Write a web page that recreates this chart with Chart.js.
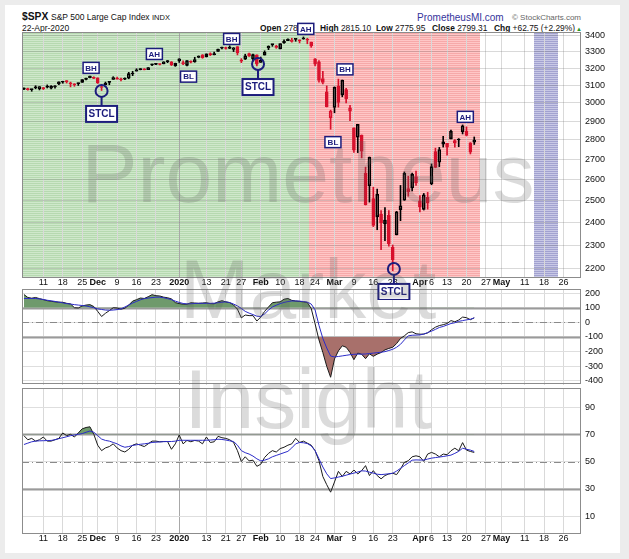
<!DOCTYPE html>
<html>
<head>
<meta charset="utf-8">
<script src="https://cdn.jsdelivr.net/npm/chart.js@4.4.1/dist/chart.umd.min.js"></script>
<style>
 body { margin: 0; background: #ececec; font-family: "Liberation Sans", Arial, sans-serif; }
 #page { position: relative; width: 629px; height: 559px; overflow: hidden; }
 #panel { position: absolute; left: 5px; top: 5px; width: 615px; height: 548px; background: #fff; }
 canvas { position: absolute; left: 0; }
 .t { position: absolute; white-space: nowrap; line-height: 1; color: #111; }
 .q { top: 24px; font-size: 8.4px; }
 #wm div { position: absolute; left: 58px; width: 500px; text-align: center; font-size: 84px; line-height: 1;
   color: rgba(90,90,90,0.22); pointer-events: none; z-index: 10; }
</style>
</head>
<body>
<div id="page">
 <div id="panel"></div>
 <div class="t" style="left:22px;top:11.5px;font-size:10.3px;font-weight:bold">$SPX</div>
 <div class="t" style="left:51px;top:12.8px;font-size:8.5px">S&amp;P 500 Large Cap Index</div>
 <div class="t" style="left:152px;top:13.8px;font-size:7.5px">INDX</div>
 <div class="t" style="left:22px;top:23.5px;font-size:8.5px">22-Apr-2020</div>
 <div class="t" style="left:417px;top:12.5px;font-size:10px;color:#35359c">PrometheusMI.com</div>
 <div class="t" style="left:512px;top:13.5px;font-size:8px;color:#666">&copy; StockCharts.com</div>
 <div class="t q" style="left:260px"><b>Open</b> 2787.89</div>
 <div class="t q" style="left:320px"><b>High</b> 2815.10</div>
 <div class="t q" style="left:376px"><b>Low</b> 2775.95</div>
 <div class="t q" style="left:432px"><b>Close</b> 2799.31</div>
 <div class="t q" style="left:494px"><b>Chg</b> +62.75 (+2.29%)</div>
 <div class="t" style="left:576px;top:26px;font-size:6px;color:#2a9a2a">&#9650;</div>
 <canvas id="rsi" width="629" height="171" style="top:379px;z-index:1"></canvas>
 <canvas id="cci" width="629" height="114" style="top:280px;z-index:2"></canvas>
 <canvas id="price" width="629" height="300" style="top:0;z-index:3"></canvas>
 <div id="wm">
  <div style="top:131px">Prometheus</div>
  <div style="top:247px">Market</div>
  <div style="top:357px">Insight</div>
 </div>
</div>
<script>
// trading days on the axis, month by month
const nov19 = [4,5,6,7,8,11,12,13,14,15,18,19,20,21,22,25,26,27,29];
const dec19 = [2,3,4,5,6,9,10,11,12,13,16,17,18,19,20,23,24,26,27,30,31];
const jan20 = [2,3,6,7,8,9,10,13,14,15,16,17,21,22,23,24,27,28,29,30,31];
const feb20 = [3,4,5,6,7,10,11,12,13,14,18,19,20,21,24,25,26,27,28];
const mar20 = [2,3,4,5,6,9,10,11,12,13,16,17,18,19,20,23,24,25,26,27,30,31];
const apr20 = [1,2,3,6,7,8,9,13,14,15,16,17,20,21,22,23,24,27,28,29,30];
const may20 = [1,4,5,6,7,8,11,12,13,14,15,18,19,20,21,22,26,27,28,29];
const jun20 = [1];

const tickDays = ['2019-11-11','2019-11-18','2019-11-25','2019-12-02','2019-12-09','2019-12-16','2019-12-23',
  '2020-01-02','2020-01-13','2020-01-21','2020-01-27','2020-02-03','2020-02-10','2020-02-18','2020-02-24',
  '2020-03-02','2020-03-09','2020-03-16','2020-03-23','2020-04-01','2020-04-06','2020-04-13','2020-04-20',
  '2020-04-27','2020-05-01','2020-05-11','2020-05-18','2020-05-26'];
const tickText = ['11','18','25','Dec','9','16','23','2020','13','21','27','Feb','10','18','24',
  'Mar','9','16','23','Apr','6','13','20','27','May','11','18','26'];
const boldTicks = ['Dec','2020','Feb','Mar','Apr','May'];

// daily OHLC, Nov 4 2019 .. Apr 22 2020
const prevClose = 3066.91;
const opens = [3078.96,3080.80,3075.10,3087.02,3081.25,3080.33,3089.28,3084.18,3090.75,3107.92,
 3117.91,3127.45,3114.66,3108.49,3111.41,3117.44,3134.85,3145.49,3147.18,3143.85,
 3087.41,3103.50,3119.21,3134.62,3141.86,3135.36,3135.75,3141.23,3166.65,3183.63,
 3195.40,3195.21,3192.32,3223.33,3226.05,3225.45,3227.20,3247.23,3240.09,3215.18,
 3244.67,3226.36,3217.55,3241.86,3238.59,3266.03,3281.81,3271.13,3285.35,3282.27,
 3302.97,3323.66,3321.03,3330.02,3315.77,3333.10,3247.16,3255.35,3289.46,3256.45,
 3282.33,3235.66,3280.61,3324.91,3344.92,3335.54,3318.28,3365.87,3370.50,3365.90,
 3378.08,3369.04,3380.39,3380.45,3360.50,3257.61,3238.94,3139.90,3062.54,2916.90,
 2974.28,3096.46,3045.75,3075.70,2954.20,2863.89,2813.48,2825.60,2630.86,2569.99,
 2508.59,2425.66,2436.50,2393.48,2431.94,2290.71,2344.44,2457.77,2501.29,2555.87,
 2558.98,2614.69,2498.08,2458.54,2514.92,2578.28,2738.65,2685.00,2776.99,2782.46,
 2805.10,2795.64,2799.34,2842.43,2845.62,2784.81,2787.89];
const highs = [3085.20,3083.95,3078.34,3097.77,3093.09,3088.33,3102.61,3098.06,3098.20,3120.46,
 3124.17,3127.64,3118.97,3110.11,3112.87,3133.83,3142.69,3154.26,3150.30,3144.31,
 3094.97,3119.38,3119.45,3150.60,3148.87,3142.12,3143.98,3176.28,3182.68,3197.71,
 3198.22,3198.48,3205.48,3225.65,3227.78,3226.43,3240.08,3247.93,3240.92,3231.72,
 3258.14,3246.15,3246.84,3244.91,3267.07,3275.58,3282.99,3288.13,3294.25,3298.66,
 3317.11,3329.88,3329.79,3337.77,3326.88,3333.18,3258.85,3285.78,3293.47,3285.91,
 3282.33,3268.44,3306.92,3337.58,3347.96,3341.42,3352.26,3375.63,3381.47,3385.09,
 3380.69,3375.01,3393.52,3385.15,3360.76,3259.81,3246.99,3182.51,3097.07,2959.72,
 3090.96,3136.72,3130.97,3083.04,2985.93,2863.89,2882.59,2825.60,2660.95,2711.33,
 2562.98,2553.93,2453.57,2466.97,2453.01,2300.73,2449.71,2571.42,2637.01,2615.91,
 2631.80,2641.39,2522.75,2533.22,2538.18,2676.85,2756.89,2760.75,2818.57,2782.46,
 2851.85,2801.88,2806.51,2879.22,2868.98,2785.54,2815.10];
const lows = [3074.87,3072.15,3065.89,3080.23,3073.58,3075.82,3084.73,3078.80,3083.26,3104.60,
 3112.06,3113.47,3091.41,3094.55,3099.26,3117.44,3131.00,3143.41,3139.34,3110.78,
 3070.33,3102.53,3103.76,3134.62,3135.46,3126.09,3133.21,3138.47,3156.51,3183.63,
 3191.03,3191.14,3192.32,3216.03,3222.30,3220.51,3227.20,3234.37,3216.57,3212.03,
 3235.53,3222.34,3214.64,3232.43,3236.67,3263.67,3260.86,3268.43,3277.19,3280.69,
 3302.82,3318.86,3316.61,3320.04,3301.87,3281.53,3234.50,3253.22,3271.89,3242.80,
 3214.68,3235.66,3280.61,3313.75,3334.39,3322.12,3317.77,3352.72,3369.72,3360.52,
 3366.15,3355.61,3378.83,3350.51,3328.45,3214.65,3118.77,3108.99,2977.39,2855.84,
 2945.19,2976.63,3034.38,2999.83,2901.54,2734.43,2734.00,2707.22,2478.86,2492.37,
 2380.94,2367.04,2280.52,2319.78,2295.56,2191.86,2344.44,2407.53,2500.72,2520.02,
 2545.28,2571.15,2447.49,2455.79,2459.96,2574.57,2657.67,2663.30,2762.36,2721.17,
 2805.10,2761.54,2764.32,2830.88,2820.43,2727.10,2775.95];
const closes = [3078.27,3074.62,3076.78,3085.18,3093.08,3087.01,3091.84,3094.04,3096.63,3120.46,
 3122.03,3120.18,3108.46,3103.54,3110.29,3133.64,3140.52,3153.63,3140.98,3113.87,
 3093.20,3112.76,3117.43,3145.91,3135.96,3132.52,3141.63,3168.57,3168.80,3191.45,
 3192.52,3191.14,3205.37,3221.22,3224.01,3223.38,3239.91,3240.02,3221.29,3230.78,
 3257.85,3234.85,3246.28,3237.18,3253.05,3274.70,3265.35,3288.13,3283.15,3289.29,
 3316.81,3329.62,3320.79,3321.75,3325.54,3295.47,3243.63,3276.24,3273.40,3283.66,
 3225.52,3248.92,3297.59,3334.69,3345.78,3327.71,3352.09,3357.75,3379.45,3373.94,
 3380.16,3370.29,3386.15,3373.23,3337.75,3225.89,3128.21,3116.39,2978.76,2954.22,
 3090.23,3003.37,3130.12,3023.94,2972.37,2746.56,2882.23,2741.38,2480.64,2711.02,
 2386.13,2529.19,2398.10,2409.39,2304.92,2237.40,2447.33,2475.56,2630.07,2541.47,
 2626.65,2584.59,2470.50,2526.90,2488.65,2663.68,2659.41,2749.98,2789.82,2761.63,
 2846.06,2783.36,2799.55,2874.56,2823.16,2736.56,2799.31];
const priceTicks = [2200,2300,2400,2500,2600,2700,2800,2900,3000,3100,3200,3300,3400];

// CCI panel
const cciLine = [190,170,165,170,162,155,148,144,140,138,
 137,130,126,100,98,112,118,121,108,75,
 40,62,80,100,98,90,96,118,145,155,
 166,163,175,189,182,180,172,168,160,135,
 128,124,124,134,132,130,132,134,128,127,
 140,148,140,135,119,90,31,50,46,46,
 9,36,75,105,134,138,140,158,163,150,
 146,143,140,136,95,-10,-120,-206,-300,-375,
 -250,-195,-160,-170,-205,-255,-210,-218,-248,-215,
 -232,-217,-206,-188,-178,-170,-145,-110,-92,-70,
 -65,-78,-81,-80,-72,-50,-33,-22,-16,-8,
 12,4,16,36,32,18,31];
const cciSignal = [163,163,163,163,160,156,151,147,143,138,
 133,128,125,121,118,115,112,106,100,92,
 88,84,83,84,87,92,105,118,132,143,
 154,162,166,169,172,172,168,162,155,145,
 136,129,126,127,129,130,130,130,130,131,
 134,137,140,135,125,112,95,75,63,53,
 42,40,58,84,105,117,128,136,142,146,
 146,145,142,138,125,85,-20,-110,-175,-230,
 -236,-233,-229,-225,-221,-218,-217,-217,-216,-213,
 -210,-207,-204,-200,-192,-184,-170,-150,-120,-92,
 -88,-87,-86,-80,-70,-60,-48,-35,-28,-18,
 -8,-3,7,12,17,21,31];
const cciTicks = [200,100,0,-100,-200,-300,-400];

// RSI panel
const rsiLine = [69,66,67,65,66,68,65,65,66,67,
 71,69,70,68,71,74,75,75.5,70,62,
 58,60,61,63,60,58,57,59,62,63,
 62,61,63,65,65,64.5,64.7,64.7,59,63,
 69.5,63,65.5,64.5,65.5,65,63,68,64,64.5,
 68.5,67.5,67,66,64,58,50,53.5,50.5,51,
 46.5,48,53,56,58,57,59.5,60.5,62,63,
 67,64,65,63.5,62,58,50.6,39,33,27.5,
 35,42.8,39,42.8,40.9,43.8,40.9,43.3,47,39.7,
 43.3,39.7,37.3,39.7,40.9,41.4,40.4,44.5,49.4,50.6,
 53.5,54.2,53.5,50.1,55.5,56.7,55.5,53.5,55.5,55,
 57.9,59.8,57.9,63.9,58.4,57.4,56.7];
const rsiSignal = [62.5,63.5,64.5,65,65.2,65.3,65.4,65.5,66,66.8,
 67.5,68.2,69,69.5,70,70.5,71.5,72.4,71.5,69,
 66.5,65.5,65,64,63,61.5,60.5,61,61.8,62.3,
 62.7,63,63.4,64,64.2,64.4,64.6,64.7,64.7,65,
 65.6,65.6,65.6,65.6,65.6,65.6,65.6,65.6,65.8,66,
 66.4,66.2,65.8,65.2,64.7,62,58,56.5,55.5,54,
 52,50.5,51,52,53.5,54.5,55.5,56.5,57.5,60,
 63,64,63.8,63.2,61.5,58,52,46,41,37.5,
 38,38.6,39.2,40,40.8,41.5,42.3,43.2,43,42.2,
 41.5,40.7,40.4,40.7,41,41.4,43,45,47,49,
 51,51.2,51.1,51.1,51.8,52.5,52.9,53.3,53.7,54.2,
 54.7,56,57.5,59.8,59,58.4,57.4];
const rsiTicks = [90,70,50,30,10];

// background zones (slot index ranges) and chart notes
const zoneFrom = [0, 74, 132];
const zoneTo = [73, 117, 137];
const zoneLight = ['#cfe8cb', '#ffc6c6', '#c8c8e6'];
const zoneDark = ['#b6d9b0', '#f6a9a9', '#a2a2d0'];
const noteText = ['BH','STCL','AH','BL','BH','STCL','AH','BH','BL','STCL','AH'];
const noteSlot = [17.3, 20, 33.6, 42.4, 53.5, 60.3, 72.6, 82.7, 79.6, 95.3, 113.7];
const notePrice = [3203, 3068, 3287, 3151, 3381, 3226, 3445, 3194, 2788, 2200, 2923];

const FONT = "'Liberation Sans', Arial, sans-serif";
const NAVY = '#1c1c7c';
const RED = '#d8102c';
Chart.defaults.font.family = FONT;
Chart.defaults.font.size = 9;
Chart.defaults.color = '#111';
Chart.defaults.animation = false;

const categories = [];
[['2019-11', nov19], ['2019-12', dec19], ['2020-01', jan20], ['2020-02', feb20],
 ['2020-03', mar20], ['2020-04', apr20], ['2020-05', may20], ['2020-06', jun20]]
  .forEach(([m, ds]) => ds.forEach(d => categories.push(m + '-' + String(d).padStart(2, '0'))));
const tickAt = {};
tickDays.forEach((d, k) => { tickAt[categories.indexOf(d)] = k; });
const labelAt = i => tickAt[i] !== undefined ? tickText[tickAt[i]] : '';

function xAxis(showLabels) {
  return {
    type: 'category', offset: true,
    border: { display: false },
    grid: {
      offset: false, drawTicks: false, lineWidth: 1,
      color: c => labelAt(c.index) === '2020' ? '#a8a8a8' : (labelAt(c.index) ? '#d9d9d9' : 'rgba(0,0,0,0)')
    },
    ticks: {
      display: showLabels, autoSkip: false, maxRotation: 0, padding: -1, color: '#111',
      font: c => ({ size: 9, weight: boldTicks.includes(labelAt(c.index)) ? 'bold' : 'normal' }),
      callback: (v, i) => labelAt(i)
    },
    afterFit: s => { s.height = showLabels ? 12 : 0; }
  };
}

function yAxis(min, max, ticks, gridColor) {
  return {
    position: 'right', min, max,
    border: { display: false },
    grid: { drawTicks: false, color: gridColor },
    ticks: { padding: 4, color: '#111', font: { size: 9 }, callback: v => String(v) },
    afterBuildTicks: s => { s.ticks = ticks.map(v => ({ value: v })); },
    afterFit: s => { s.width = 48; }
  };
}

// shaded zones with fine horizontal stripes
const shadePlugin = {
  id: 'shade',
  beforeDraw(chart) {
    const { ctx, chartArea: a, scales: { x } } = chart;
    const half = (x.getPixelForValue(1) - x.getPixelForValue(0)) / 2;
    const top = Math.round(a.top), bottom = Math.round(a.bottom);
    zoneFrom.forEach((from, k) => {
      const x0 = Math.round(x.getPixelForValue(from) - half);
      const x1 = Math.round(x.getPixelForValue(zoneTo[k]) + half);
      ctx.fillStyle = zoneLight[k];
      ctx.fillRect(x0, top, x1 - x0, bottom - top);
      ctx.fillStyle = zoneDark[k];
      for (let yy = top + 1; yy < bottom; yy += 2) ctx.fillRect(x0, yy, x1 - x0, 1);
    });
  }
};

const framePlugin = {
  id: 'frame',
  beforeDatasetsDraw(chart, args, opts) {
    const { ctx, chartArea: a, scales: { y } } = chart;
    (opts.lines || []).forEach(l => {
      const py = Math.round(y.getPixelForValue(l.value)) + 0.5;
      ctx.save();
      ctx.strokeStyle = l.color; ctx.lineWidth = l.width; ctx.setLineDash(l.dash || []);
      ctx.beginPath(); ctx.moveTo(a.left, py); ctx.lineTo(a.right, py); ctx.stroke();
      ctx.restore();
    });
  },
  afterDatasetsDraw(chart) {
    const { ctx, chartArea: a } = chart;
    ctx.save();
    ctx.strokeStyle = '#8c8c8c'; ctx.lineWidth = 1;
    ctx.strokeRect(Math.round(a.left) + 0.5, Math.round(a.top) + 0.5,
      Math.round(a.right - a.left) - 1, Math.round(a.bottom - a.top) - 1);
    ctx.restore();
  }
};

const notePlugin = {
  id: 'notes',
  afterDatasetsDraw(chart) {
    const { ctx, scales: { x, y } } = chart;
    ctx.save();
    ctx.textAlign = 'center'; ctx.textBaseline = 'middle';
    noteText.forEach((t, k) => {
      const px = x.getPixelForValue(noteSlot[k]);
      let py = y.getPixelForValue(notePrice[k]);
      let w = 16, h = 11, font = 'bold 8px ' + FONT, lw = 1.5;
      ctx.strokeStyle = NAVY;
      if (t === 'STCL') {
        ctx.lineWidth = 2;
        ctx.beginPath(); ctx.arc(px, py, 6, 0, Math.PI * 2); ctx.stroke();
        ctx.beginPath(); ctx.moveTo(px, py + 6); ctx.lineTo(px, py + 15); ctx.stroke();
        py += 23; w = 31; h = 16; font = 'bold 10px ' + FONT; lw = 2;
      }
      ctx.fillStyle = '#fff';
      ctx.fillRect(px - w / 2, py - h / 2, w, h);
      ctx.lineWidth = lw;
      ctx.strokeRect(px - w / 2, py - h / 2, w, h);
      ctx.fillStyle = NAVY; ctx.font = font;
      ctx.fillText(t, px, py + 0.5);
    });
    ctx.restore();
  }
};

// candle colours: red when the close is below the previous close, filled when close < open
const candleColor = closes.map((c, i) => c < (i ? closes[i - 1] : prevClose) ? RED : '#000');
const bodyFill = closes.map((c, i) => c < opens[i] ? candleColor[i] : 'rgba(0,0,0,0)');
const bodies = opens.map((o, i) => [o, closes[i]]);
const upperWicks = highs.map((h, i) => [Math.max(opens[i], closes[i]), h]);
const lowerWicks = lows.map((l, i) => [l, Math.min(opens[i], closes[i])]);

const barBase = { grouped: false, borderSkipped: false };
new Chart(document.getElementById('price'), {
  type: 'bar',
  data: {
    labels: categories,
    datasets: [
      { ...barBase, data: bodies, backgroundColor: bodyFill, borderColor: candleColor, borderWidth: 1,
        barThickness: 3, minBarLength: 1 },
      { ...barBase, data: upperWicks, backgroundColor: candleColor, borderWidth: 0, barThickness: 1 },
      { ...barBase, data: lowerWicks, backgroundColor: candleColor, borderWidth: 0, barThickness: 1 }
    ]
  },
  options: {
    responsive: false, maintainAspectRatio: false, events: [],
    layout: { padding: { left: 22, top: 32, right: 0, bottom: 10 } },
    plugins: { legend: { display: false }, tooltip: { enabled: false }, frame: { lines: [] } },
    scales: {
      x: xAxis(true),
      y: { ...yAxis(2163, 3425, priceTicks, 'rgba(120,120,120,0.28)'), type: 'logarithmic' }
    }
  },
  plugins: [shadePlugin, framePlugin, notePlugin]
});

const lineBase = { pointRadius: 0, borderWidth: 1, tension: 0, fill: false };
new Chart(document.getElementById('cci'), {
  type: 'line',
  data: {
    labels: categories,
    datasets: [
      { ...lineBase, data: cciSignal, borderColor: '#2b2bc8' },
      { ...lineBase, data: cciLine, borderColor: '#1a1a1a' },
      { ...lineBase, data: cciLine, borderWidth: 0,
        fill: { target: { value: 100 }, above: '#6f9a6c', below: 'rgba(0,0,0,0)' } },
      { ...lineBase, data: cciLine, borderWidth: 0,
        fill: { target: { value: -100 }, above: 'rgba(0,0,0,0)', below: '#a8706b' } }
    ]
  },
  options: {
    responsive: false, maintainAspectRatio: false, events: [],
    layout: { padding: { left: 22, top: 8, right: 0, bottom: 8 } },
    plugins: {
      legend: { display: false }, tooltip: { enabled: false },
      frame: { lines: [
        { value: 100, color: '#9a9a9a', width: 2 },
        { value: -100, color: '#9a9a9a', width: 2 },
        { value: 0, color: '#8a8a8a', width: 1, dash: [7, 3, 1, 3] }
      ] }
    },
    scales: { x: xAxis(false), y: yAxis(-425, 225, cciTicks, '#dedede') }
  },
  plugins: [framePlugin]
});

new Chart(document.getElementById('rsi'), {
  type: 'line',
  data: {
    labels: categories,
    datasets: [
      { ...lineBase, data: rsiSignal, borderColor: '#2b2bc8' },
      { ...lineBase, data: rsiLine, borderColor: '#1a1a1a',
        fill: { target: { value: 70 }, above: '#6f9a6c', below: 'rgba(0,0,0,0)' } }
    ]
  },
  options: {
    responsive: false, maintainAspectRatio: false, events: [],
    layout: { padding: { left: 22, top: 8, right: 0, bottom: 4 } },
    plugins: {
      legend: { display: false }, tooltip: { enabled: false },
      frame: { lines: [
        { value: 70, color: '#9a9a9a', width: 2 },
        { value: 30, color: '#9a9a9a', width: 2 },
        { value: 50, color: '#8a8a8a', width: 1, dash: [7, 3, 1, 3] }
      ] }
    },
    scales: { x: xAxis(true), y: yAxis(-3.2, 103.7, rsiTicks, '#dedede') }
  },
  plugins: [framePlugin]
});
</script>
</body>
</html>
